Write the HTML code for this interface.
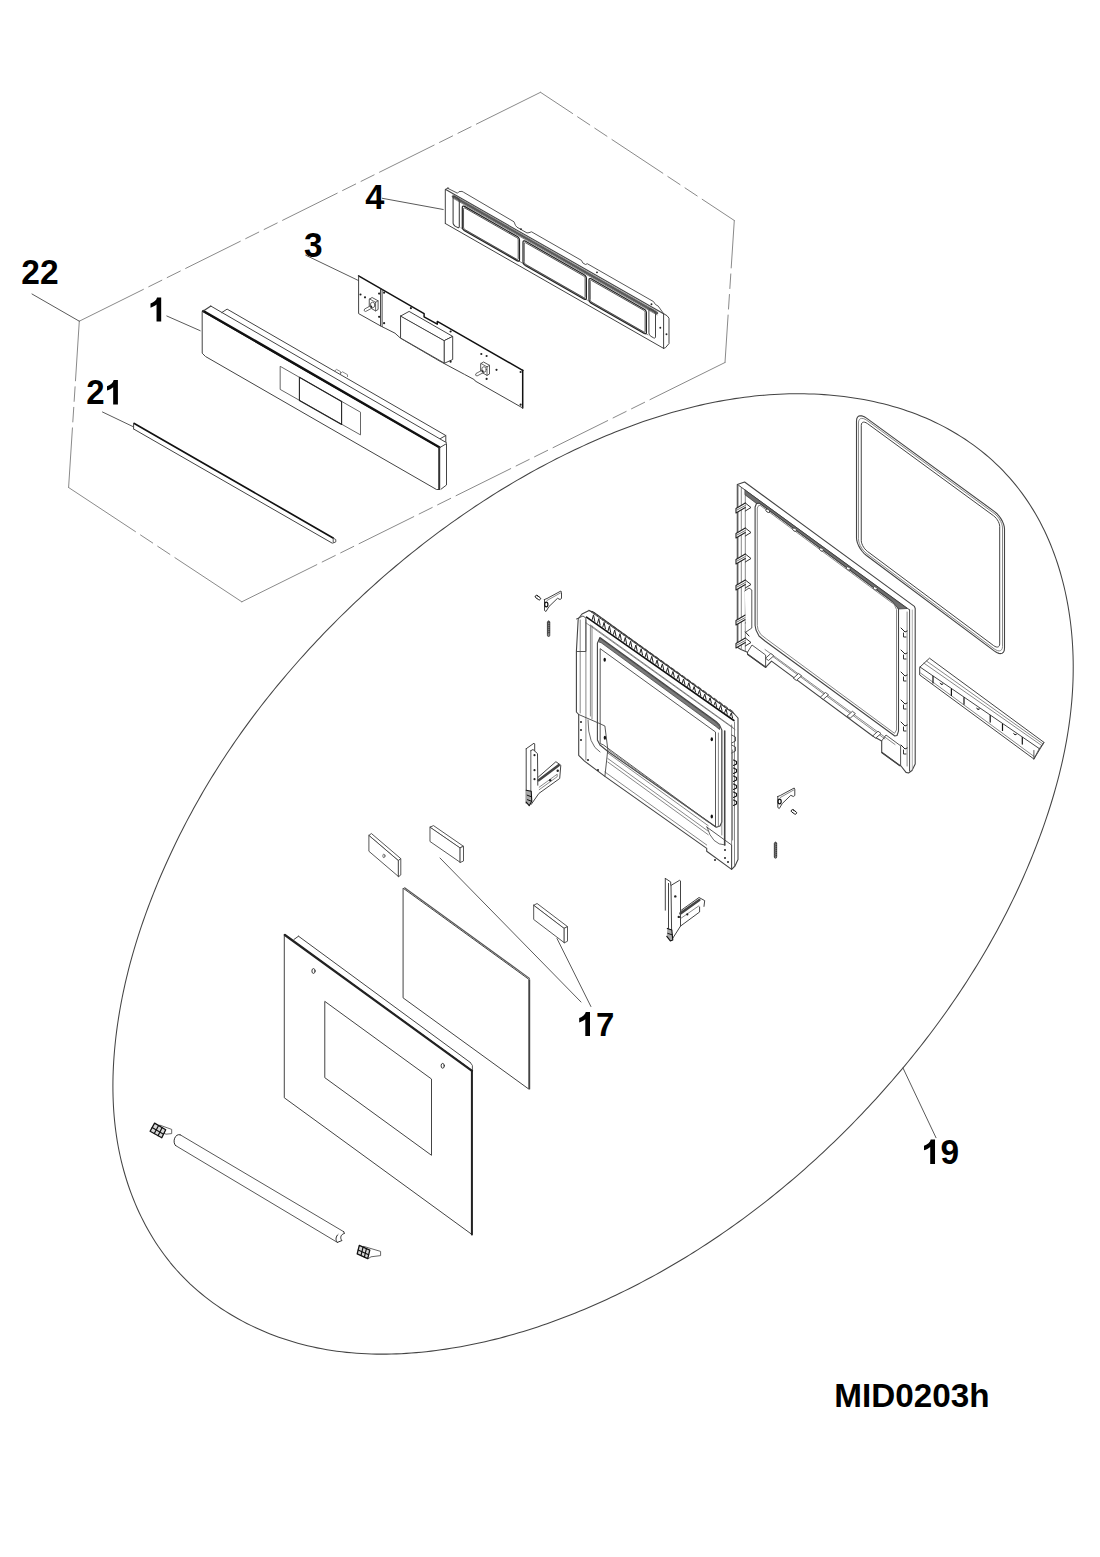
<!DOCTYPE html>
<html><head><meta charset="utf-8"><style>
html,body{margin:0;padding:0;background:#fff;}
body{width:1100px;height:1557px;overflow:hidden;}
svg{display:block;}
text{font-family:"Liberation Sans",sans-serif;font-weight:bold;fill:#000;}
</style></head><body>
<svg width="1100" height="1557" viewBox="0 0 1100 1557" stroke-linecap="round" stroke-linejoin="round">
<rect width="1100" height="1557" fill="#fff"/>
<path d="M79.3,321.2L143.38,289.4M148.76,286.73L161.83,280.24M167.21,277.57L180.29,271.08M185.66,268.41L240.3,241.29M245.68,238.63L258.75,232.13M264.13,229.47L277.21,222.98M282.58,220.31L337.22,193.19M342.59,190.52L355.67,184.03M361.05,181.37L374.12,174.87M379.5,172.21L434.14,145.09M439.51,142.42L452.59,135.93M457.97,133.26L471.04,126.77M476.42,124.1L540.5,92.3" fill="none" stroke="#8a8a8a" stroke-width="1"/>
<path d="M540.5,92.3L572.6,113.53M577.6,116.84L589.78,124.9M594.78,128.21L606.96,136.26M611.96,139.57L662.84,173.23M667.84,176.54L680.02,184.59M685.02,187.9L697.2,195.96M702.2,199.27L734.3,220.5" fill="none" stroke="#8a8a8a" stroke-width="1"/>
<path d="M734.3,220.5L731.19,267.95M730.8,273.94L729.85,288.51M729.45,294.49L728.5,309.06M728.11,315.05L725,362.5" fill="none" stroke="#8a8a8a" stroke-width="1"/>
<path d="M725,362.5L649.99,399.65M644.61,402.31L631.53,408.79M626.15,411.45L613.07,417.93M607.69,420.6L553.03,447.67M547.65,450.33L534.57,456.81M529.19,459.47L516.11,465.95M510.73,468.61L456.07,495.69M450.69,498.35L437.61,504.83M432.23,507.49L419.15,513.97M413.77,516.63L359.11,543.7M353.73,546.37L340.65,552.85M335.27,555.51L322.19,561.99M316.81,564.65L241.8,601.8" fill="none" stroke="#8a8a8a" stroke-width="1"/>
<path d="M241.8,601.8L174.9,557.65M169.89,554.34L157.7,546.3M152.7,543L140.51,534.96M135.5,531.65L68.6,487.5" fill="none" stroke="#8a8a8a" stroke-width="1"/>
<path d="M68.6,487.5L72.43,427.9M72.82,421.91L73.76,407.34M74.14,401.36L75.08,386.79M75.47,380.8L79.3,321.2" fill="none" stroke="#8a8a8a" stroke-width="1"/>
<path d="M163.07,870.47 L165.07,865.93 L167.1,861.41 L169.16,856.91 L171.25,852.41 L173.37,847.94 L175.51,843.47 L177.69,839.03 L179.89,834.59 L182.12,830.17 L184.39,825.77 L186.67,821.38 L188.99,817.01 L191.34,812.65 L193.71,808.31 L196.11,803.98 L198.54,799.67 L201,795.37 L203.49,791.09 L206,786.83 L208.54,782.58 L211.1,778.35 L213.7,774.14 L216.32,769.94 L218.97,765.75 L221.65,761.59 L224.35,757.44 L227.08,753.31 L229.83,749.19 L232.62,745.09 L235.42,741.01 L238.26,736.95 L241.12,732.9 L244.01,728.87 L246.92,724.86 L249.85,720.86 L252.81,716.88 L255.8,712.92 L258.81,708.97 L261.84,705.05 L264.89,701.14 L267.97,697.24 L271.08,693.37 L274.2,689.51 L277.35,685.67 L280.52,681.84 L283.71,678.04 L286.92,674.25 L290.16,670.47 L293.42,666.72 L296.69,662.98 L299.99,659.26 L303.31,655.56 L306.64,651.87 L310,648.2 L313.38,644.55 L316.77,640.92 L320.19,637.31 L323.63,633.71 L327.08,630.13 L330.55,626.57 L334.04,623.03 L337.55,619.5 L341.08,616 L344.63,612.51 L348.2,609.04 L351.78,605.59 L355.39,602.17 L359.01,598.76 L362.64,595.37 L366.3,592 L369.97,588.65 L373.67,585.32 L377.38,582.01 L381.1,578.72 L384.85,575.45 L388.61,572.2 L392.38,568.98 L396.18,565.77 L399.99,562.59 L403.82,559.42 L407.66,556.28 L411.52,553.16 L415.4,550.06 L419.29,546.99 L423.2,543.93 L427.12,540.9 L431.07,537.89 L435.02,534.9 L438.99,531.94 L442.98,529 L446.98,526.08 L451,523.19 L455.03,520.31 L459.08,517.47 L463.14,514.64 L467.22,511.84 L471.31,509.07 L475.42,506.31 L479.54,503.59 L483.68,500.88 L487.84,498.2 L492.01,495.55 L496.19,492.92 L500.39,490.32 L504.61,487.74 L508.84,485.19 L513.09,482.66 L517.35,480.16 L521.63,477.68 L525.93,475.23 L530.24,472.81 L534.57,470.41 L538.91,468.05 L543.27,465.7 L547.65,463.39 L552.04,461.1 L556.45,458.84 L560.88,456.6 L565.32,454.4 L569.78,452.22 L574.26,450.07 L578.76,447.95 L583.27,445.86 L587.79,443.79 L592.34,441.76 L596.9,439.76 L601.47,437.79 L606.06,435.85 L610.67,433.95 L615.29,432.08 L619.92,430.25 L624.57,428.45 L629.23,426.69 L633.91,424.96 L638.6,423.27 L643.3,421.62 L648.02,420.02 L652.75,418.45 L657.49,416.92 L662.24,415.43 L667.01,413.99 L671.78,412.59 L676.57,411.23 L681.37,409.92 L686.17,408.65 L690.99,407.43 L695.82,406.25 L700.66,405.13 L705.51,404.05 L710.37,403.02 L715.23,402.04 L720.11,401.11 L724.99,400.24 L729.88,399.41 L734.78,398.64 L739.69,397.92 L744.6,397.25 L749.53,396.65 L754.45,396.09 L759.39,395.6 L764.33,395.16 L769.28,394.78 L774.23,394.45 L779.19,394.19 L784.15,393.99 L789.12,393.85 L794.09,393.77 L799.07,393.75 L804.05,393.8 L809.03,393.91 L814.02,394.08 L819.01,394.32 L824,394.63 L828.99,395.01 L833.98,395.45 L838.97,395.96 L843.95,396.54 L848.92,397.2 L853.88,397.92 L858.83,398.72 L863.77,399.6 L868.69,400.54 L873.6,401.57 L878.48,402.67 L883.35,403.84 L888.19,405.1 L893.01,406.44 L897.8,407.85 L902.56,409.35 L907.29,410.93 L911.99,412.59 L916.65,414.34 L921.28,416.17 L925.87,418.09 L930.42,420.1 L934.93,422.19 L939.4,424.38 L943.81,426.65 L948.19,429 L952.51,431.45 L956.77,433.98 L960.98,436.59 L965.14,439.29 L969.23,442.08 L973.26,444.94 L977.23,447.89 L981.13,450.92 L984.96,454.02 L988.72,457.21 L992.4,460.48 L996.01,463.82 L999.54,467.24 L1002.99,470.74 L1006.36,474.31 L1009.64,477.94 L1012.85,481.65 L1015.96,485.43 L1019,489.27 L1021.94,493.17 L1024.8,497.13 L1027.56,501.16 L1030.24,505.24 L1032.83,509.38 L1035.33,513.57 L1037.75,517.82 L1040.08,522.12 L1042.33,526.46 L1044.49,530.85 L1046.56,535.29 L1048.56,539.78 L1050.47,544.3 L1052.29,548.87 L1054.04,553.47 L1055.71,558.12 L1057.29,562.79 L1058.8,567.5 L1060.23,572.25 L1061.58,577.02 L1062.85,581.82 L1064.04,586.65 L1065.16,591.5 L1066.2,596.38 L1067.17,601.28 L1068.06,606.19 L1068.88,611.13 L1069.63,616.08 L1070.31,621.05 L1070.91,626.03 L1071.44,631.02 L1071.9,636.02 L1072.29,641.03 L1072.61,646.04 L1072.86,651.06 L1073.05,656.08 L1073.17,661.1 L1073.22,666.12 L1073.2,671.13 L1073.12,676.14 L1072.98,681.15 L1072.77,686.15 L1072.5,691.14 L1072.16,696.12 L1071.77,701.09 L1071.31,706.06 L1070.8,711.02 L1070.23,715.96 L1069.6,720.9 L1068.91,725.83 L1068.17,730.75 L1067.38,735.66 L1066.53,740.56 L1065.63,745.45 L1064.68,750.33 L1063.68,755.2 L1062.63,760.06 L1061.54,764.91 L1060.39,769.74 L1059.2,774.57 L1057.97,779.38 L1056.69,784.18 L1055.37,788.97 L1054,793.75 L1052.59,798.51 L1051.15,803.27 L1049.66,808.01 L1048.14,812.73 L1046.58,817.44 L1044.99,822.14 L1043.35,826.83 L1041.69,831.5 L1039.99,836.16 L1038.26,840.8 L1036.49,845.43 L1034.69,850.05 L1032.86,854.65 L1031,859.24 L1029.11,863.81 L1027.18,868.37 L1025.22,872.91 L1023.23,877.44 L1021.21,881.95 L1019.16,886.46 L1017.07,890.94 L1014.96,895.41 L1012.81,899.87 L1010.64,904.31 L1008.44,908.74 L1006.2,913.15 L1003.94,917.55 L1001.65,921.93 L999.33,926.3 L996.98,930.65 L994.6,934.99 L992.2,939.31 L989.76,943.62 L987.3,947.91 L984.81,952.19 L982.3,956.45 L979.75,960.69 L977.18,964.92 L974.59,969.14 L971.96,973.34 L969.31,977.52 L966.64,981.69 L963.94,985.85 L961.21,989.98 L958.46,994.11 L955.69,998.21 L952.89,1002.3 L950.06,1006.38 L947.21,1010.44 L944.34,1014.48 L941.44,1018.5 L938.52,1022.52 L935.58,1026.51 L932.61,1030.49 L929.62,1034.45 L926.61,1038.4 L923.57,1042.33 L920.52,1046.24 L917.44,1050.14 L914.34,1054.02 L911.22,1057.88 L908.07,1061.73 L904.91,1065.56 L901.72,1069.38 L898.52,1073.18 L895.29,1076.96 L892.05,1080.72 L888.78,1084.47 L885.5,1088.2 L882.19,1091.92 L878.87,1095.61 L875.53,1099.29 L872.17,1102.96 L868.79,1106.6 L865.39,1110.23 L861.97,1113.84 L858.53,1117.43 L855.07,1121 L851.6,1124.56 L848.11,1128.1 L844.59,1131.61 L841.06,1135.11 L837.51,1138.59 L833.95,1142.05 L830.36,1145.49 L826.76,1148.91 L823.14,1152.32 L819.5,1155.7 L815.84,1159.06 L812.16,1162.4 L808.47,1165.72 L804.75,1169.02 L801.02,1172.3 L797.28,1175.55 L793.51,1178.79 L789.73,1182 L785.93,1185.19 L782.11,1188.37 L778.27,1191.51 L774.42,1194.64 L770.55,1197.75 L766.66,1200.83 L762.76,1203.89 L758.84,1206.92 L754.9,1209.93 L750.94,1212.92 L746.97,1215.89 L742.98,1218.83 L738.97,1221.75 L734.95,1224.65 L730.91,1227.52 L726.85,1230.36 L722.78,1233.18 L718.69,1235.98 L714.58,1238.75 L710.46,1241.5 L706.32,1244.22 L702.17,1246.91 L698,1249.59 L693.81,1252.23 L689.61,1254.85 L685.39,1257.44 L681.15,1260.01 L676.9,1262.55 L672.63,1265.06 L668.35,1267.54 L664.05,1270 L659.74,1272.43 L655.41,1274.84 L651.06,1277.21 L646.7,1279.56 L642.32,1281.88 L637.93,1284.18 L633.53,1286.44 L629.1,1288.67 L624.67,1290.88 L620.22,1293.06 L615.75,1295.21 L611.27,1297.33 L606.77,1299.42 L602.26,1301.48 L597.73,1303.51 L593.19,1305.51 L588.63,1307.47 L584.06,1309.41 L579.48,1311.31 L574.88,1313.18 L570.27,1315.02 L565.65,1316.82 L561.01,1318.59 L556.36,1320.32 L551.69,1322.02 L547.01,1323.68 L542.32,1325.3 L537.62,1326.88 L532.9,1328.43 L528.17,1329.94 L523.43,1331.41 L518.68,1332.84 L513.91,1334.23 L509.13,1335.57 L504.34,1336.88 L499.54,1338.14 L494.73,1339.37 L489.91,1340.54 L485.07,1341.68 L480.22,1342.77 L475.37,1343.81 L470.5,1344.81 L465.62,1345.77 L460.73,1346.68 L455.83,1347.54 L450.92,1348.35 L446,1349.11 L441.07,1349.83 L436.13,1350.49 L431.18,1351.11 L426.22,1351.67 L421.26,1352.18 L416.29,1352.63 L411.32,1353.03 L406.34,1353.37 L401.36,1353.65 L396.38,1353.87 L391.39,1354.02 L386.41,1354.12 L381.43,1354.14 L376.45,1354.1 L371.47,1353.99 L366.49,1353.82 L361.53,1353.57 L356.56,1353.25 L351.61,1352.85 L346.66,1352.38 L341.72,1351.83 L336.79,1351.21 L331.87,1350.5 L326.96,1349.71 L322.06,1348.84 L317.18,1347.89 L312.31,1346.85 L307.46,1345.72 L302.63,1344.51 L297.81,1343.22 L293.02,1341.84 L288.26,1340.37 L283.52,1338.82 L278.81,1337.18 L274.13,1335.47 L269.48,1333.66 L264.87,1331.78 L260.3,1329.81 L255.76,1327.76 L251.27,1325.63 L246.82,1323.42 L242.41,1321.12 L238.06,1318.75 L233.75,1316.29 L229.5,1313.75 L225.3,1311.14 L221.15,1308.44 L217.07,1305.67 L213.04,1302.81 L209.08,1299.88 L205.18,1296.87 L201.35,1293.78 L197.59,1290.61 L193.9,1287.37 L190.28,1284.05 L186.74,1280.65 L183.28,1277.18 L179.89,1273.63 L176.59,1270.01 L173.37,1266.31 L170.23,1262.54 L167.18,1258.69 L164.21,1254.78 L161.33,1250.81 L158.52,1246.77 L155.81,1242.67 L153.17,1238.51 L150.62,1234.29 L148.15,1230.02 L145.77,1225.69 L143.47,1221.32 L141.26,1216.89 L139.13,1212.42 L137.08,1207.91 L135.12,1203.36 L133.24,1198.76 L131.45,1194.13 L129.74,1189.46 L128.11,1184.76 L126.57,1180.03 L125.12,1175.27 L123.75,1170.49 L122.46,1165.68 L121.26,1160.85 L120.15,1156 L119.12,1151.13 L118.17,1146.25 L117.31,1141.35 L116.53,1136.44 L115.83,1131.52 L115.21,1126.58 L114.66,1121.64 L114.2,1116.68 L113.8,1111.72 L113.48,1106.75 L113.24,1101.78 L113.06,1096.8 L112.95,1091.82 L112.91,1086.83 L112.93,1081.84 L113.02,1076.85 L113.18,1071.87 L113.39,1066.88 L113.67,1061.89 L114,1056.91 L114.39,1051.94 L114.84,1046.97 L115.34,1042 L115.9,1037.05 L116.5,1032.1 L117.16,1027.16 L117.87,1022.23 L118.62,1017.31 L119.43,1012.41 L120.28,1007.51 L121.18,1002.62 L122.13,997.74 L123.12,992.88 L124.16,988.02 L125.24,983.18 L126.37,978.34 L127.54,973.52 L128.75,968.71 L130.01,963.91 L131.31,959.12 L132.65,954.34 L134.03,949.57 L135.44,944.82 L136.9,940.08 L138.4,935.35 L139.94,930.63 L141.51,925.92 L143.12,921.23 L144.76,916.55 L146.44,911.88 L148.16,907.23 L149.91,902.59 L151.69,897.96 L153.51,893.34 L155.36,888.74 L157.24,884.15 L159.15,879.57 L161.09,875.01Z" fill="none" stroke="#444" stroke-width="1.05"/>
<text transform="matrix(1.0147,0,0,1.0391,21.29,283.9)" font-size="33">22</text>
<text transform="matrix(1.0,0,0,1.0609,86.2,404.4)" font-size="33">2</text>
<text transform="matrix(1.0125,0,0,1.0522,304.09,257.1)" font-size="33">3</text>
<text transform="matrix(1.0412,0,0,1.0435,365.26,208.9)" font-size="33">4</text>
<text transform="matrix(1.0,0,0,1.0261,596.0,1036.0)" font-size="33">7</text>
<text transform="matrix(1.0125,0,0,1.0609,940.39,1164.0)" font-size="33">9</text>
<text transform="matrix(1.008,0,0,1.0333,834.28,1407.3)" font-size="33">MID0203h</text>
<path transform="matrix(0.99,0,0,1,150.5,297.4)" d="M6.6,0 L10.8,0 L10.8,24 L6.1,24 L6.1,7.2 C4.4,8.6 2.4,9.7 0,10.4 L0,6.1 C1.4,5.6 3,4.7 4.4,3.6 C5.6,2.5 6.3,1.3 6.6,0 Z" fill="#000"/>
<path transform="matrix(1.01,0,0,1.02,107,380)" d="M6.6,0 L10.8,0 L10.8,24 L6.1,24 L6.1,7.2 C4.4,8.6 2.4,9.7 0,10.4 L0,6.1 C1.4,5.6 3,4.7 4.4,3.6 C5.6,2.5 6.3,1.3 6.6,0 Z" fill="#000"/>
<path transform="matrix(1,0,0,1,579.2,1012)" d="M6.6,0 L10.8,0 L10.8,24 L6.1,24 L6.1,7.2 C4.4,8.6 2.4,9.7 0,10.4 L0,6.1 C1.4,5.6 3,4.7 4.4,3.6 C5.6,2.5 6.3,1.3 6.6,0 Z" fill="#000"/>
<path transform="matrix(1.02,0,0,1.02,924,1139.6)" d="M6.6,0 L10.8,0 L10.8,24 L6.1,24 L6.1,7.2 C4.4,8.6 2.4,9.7 0,10.4 L0,6.1 C1.4,5.6 3,4.7 4.4,3.6 C5.6,2.5 6.3,1.3 6.6,0 Z" fill="#000"/>
<line x1="32" y1="294" x2="79.3" y2="321.2" stroke="#5a5a5a" stroke-width="1"/>
<line x1="166.8" y1="316" x2="200.2" y2="330.7" stroke="#5a5a5a" stroke-width="1"/>
<line x1="102.5" y1="412" x2="133" y2="426.6" stroke="#5a5a5a" stroke-width="1"/>
<line x1="305.7" y1="255.2" x2="358.6" y2="280.6" stroke="#5a5a5a" stroke-width="1"/>
<line x1="382.3" y1="198.3" x2="443.2" y2="209.5" stroke="#5a5a5a" stroke-width="1"/>
<line x1="440" y1="858" x2="581" y2="1002" stroke="#5a5a5a" stroke-width="1"/>
<line x1="557" y1="938.5" x2="590.9" y2="1006.5" stroke="#5a5a5a" stroke-width="1"/>
<line x1="903" y1="1068" x2="936" y2="1137.7" stroke="#5a5a5a" stroke-width="1"/>
<polygon points="202.5,311.5 439.5,447.8 439.5,489.5 436.5,489.5 205.5,356.5 202.5,353.5" fill="#fff" stroke="#444" stroke-width="1"/>
<line x1="203.3" y1="311" x2="439.3" y2="447.2" stroke="#111" stroke-width="2.4"/>
<line x1="203.3" y1="311" x2="210.9" y2="306.1" stroke="#444" stroke-width="1.2"/>
<line x1="210.9" y1="306.1" x2="446.5" y2="442.7" stroke="#444" stroke-width="1"/>
<polyline points="439.5,447.8 446.5,443.6 446.5,485 441,489.2" fill="none" stroke="#444" stroke-width="1"/>
<line x1="439.2" y1="448" x2="439.2" y2="489" stroke="#333" stroke-width="2"/>
<polyline points="221.7,312.6 227.1,309.1 445.8,435.5 445.8,441.6" fill="none" stroke="#444" stroke-width="1"/>
<line x1="440.4" y1="438.6" x2="445.8" y2="435.5" stroke="#444" stroke-width="1"/>
<polygon points="280.5,366.5 360.5,412.2 360.5,434.9 280.5,389.6" fill="none" stroke="#555" stroke-width="0.9"/>
<polygon points="299.4,377.3 341.6,401.4 341.6,424.4 299.4,400.5" fill="none" stroke="#222" stroke-width="1.1"/>
<polyline points="334.5,371.2 336.5,369.4 340.5,371.6 340.5,373.4" fill="none" stroke="#6a6a6a" stroke-width="0.8"/>
<polyline points="340.5,373.4 342.5,371.8 347.5,374.7 347.5,376.6" fill="none" stroke="#6a6a6a" stroke-width="0.8"/>
<line x1="134.3" y1="423.5" x2="333.1" y2="537.9" stroke="#111" stroke-width="1.7"/>
<line x1="134" y1="429.2" x2="332.3" y2="543.2" stroke="#444" stroke-width="1"/>
<line x1="133.6" y1="423.2" x2="133.6" y2="429" stroke="#444" stroke-width="1"/>
<polyline points="333.2,538 333.2,543 335.8,541.9 335.8,539.6 333.2,538" fill="none" stroke="#444" stroke-width="0.9"/>
<polyline points="358.6,275.9 424.1,313.6 424.1,316.8 437.3,324.1 437.3,321.4 522.7,370.3" fill="none" stroke="#111" stroke-width="1.5"/>
<line x1="522.7" y1="370.3" x2="522.7" y2="408" stroke="#111" stroke-width="1.5"/>
<polyline points="522.7,408 475.2,381 474.4,379.7 464.5,374.4 440,361.3 400.5,338.2 395,333.2 385.9,328.6 381.4,326.4 358.6,313.6 358.6,275.9" fill="none" stroke="#444" stroke-width="1"/>
<line x1="380.5" y1="288.9" x2="380.5" y2="325.8" stroke="#333" stroke-width="0.9"/>
<line x1="382.1" y1="289.7" x2="382.1" y2="326.6" stroke="#333" stroke-width="0.9"/>
<polygon points="400.9,315.9 444.5,340.5 444.5,363.2 400.9,338.2" fill="#fff" stroke="#444" stroke-width="1"/>
<polygon points="400.9,315.9 409.1,311.4 452.7,336.4 444.5,340.5" fill="#fff" stroke="#444" stroke-width="1"/>
<polygon points="444.5,340.5 452.7,336.4 452.7,359.5 444.5,363.2" fill="#fff" stroke="#444" stroke-width="1"/>
<polygon points="369.6,299 372.1,297.5 378.1,300.8 378.1,309.5 375.6,310.9 369.6,307.5" fill="#fff" stroke="#444" stroke-width="0.9"/>
<line x1="369.6" y1="299" x2="375.6" y2="302.3" stroke="#444" stroke-width="0.8"/>
<line x1="375.6" y1="302.3" x2="378.1" y2="300.8" stroke="#444" stroke-width="0.8"/>
<line x1="375.6" y1="302.3" x2="375.6" y2="310.9" stroke="#444" stroke-width="0.8"/>
<ellipse cx="372.6" cy="305" rx="2.3" ry="2.8" fill="#fff" stroke="#444" stroke-width="0.8"/>
<polyline points="371.1,305.5 364.6,309 364.1,310.7 365.6,311.5 372.4,307.9" fill="#fff" stroke="#444" stroke-width="0.8"/>
<circle cx="371.2" cy="306.9" r="1.08" fill="#222"/>
<polygon points="481,363.5 483.5,362 489.5,365.3 489.5,374 487,375.4 481,372" fill="#fff" stroke="#444" stroke-width="0.9"/>
<line x1="481" y1="363.5" x2="487" y2="366.8" stroke="#444" stroke-width="0.8"/>
<line x1="487" y1="366.8" x2="489.5" y2="365.3" stroke="#444" stroke-width="0.8"/>
<line x1="487" y1="366.8" x2="487" y2="375.4" stroke="#444" stroke-width="0.8"/>
<ellipse cx="484" cy="369.5" rx="2.3" ry="2.8" fill="#fff" stroke="#444" stroke-width="0.8"/>
<polyline points="482.5,370 476,373.5 475.5,375.2 477,376 483.8,372.4" fill="#fff" stroke="#444" stroke-width="0.8"/>
<circle cx="482.6" cy="371.4" r="1.08" fill="#222"/>
<circle cx="360.5" cy="294.5" r="1.08" fill="#222"/>
<circle cx="365" cy="297.3" r="1.08" fill="#222"/>
<circle cx="379.1" cy="293.6" r="1.08" fill="#222"/>
<circle cx="379.1" cy="316.8" r="1.08" fill="#222"/>
<circle cx="384.1" cy="292.7" r="1.08" fill="#222"/>
<circle cx="384.1" cy="323.2" r="1.08" fill="#222"/>
<circle cx="410.9" cy="308.2" r="1.08" fill="#222"/>
<circle cx="450.6" cy="331.5" r="1.08" fill="#222"/>
<circle cx="450.6" cy="361.7" r="1.08" fill="#222"/>
<circle cx="481.3" cy="354" r="1.08" fill="#222"/>
<circle cx="486.6" cy="356" r="1.08" fill="#222"/>
<circle cx="496.5" cy="369.8" r="1.08" fill="#222"/>
<circle cx="486.6" cy="378.9" r="1.08" fill="#222"/>
<circle cx="520.6" cy="372" r="1.08" fill="#222"/>
<circle cx="520.6" cy="404.7" r="1.08" fill="#222"/>
<polyline points="445.3,223.5 445.3,190 447,188.2 448.7,188.1" fill="none" stroke="#444" stroke-width="1"/>
<line x1="445.3" y1="189.3" x2="663.6" y2="313.67" stroke="#444" stroke-width="1.1"/>
<line x1="445.3" y1="223.5" x2="663.6" y2="348.37" stroke="#444" stroke-width="1"/>
<line x1="461" y1="227.88" x2="648" y2="334.84" stroke="#6a6a6a" stroke-width="0.8"/>
<polyline points="663.6,313.67 667,315.67 669,318.17 669,343.57 665.5,347.67 663.6,348.37" fill="none" stroke="#444" stroke-width="1"/>
<line x1="663.6" y1="313.67" x2="663.6" y2="348.37" stroke="#444" stroke-width="1"/>
<line x1="453" y1="196.4" x2="657" y2="313.09" stroke="#5a5a5a" stroke-width="2.4"/>
<line x1="453" y1="194.8" x2="657" y2="311.49" stroke="#6a6a6a" stroke-width="0.7"/>
<line x1="453" y1="198.2" x2="657" y2="314.89" stroke="#6a6a6a" stroke-width="0.8"/>
<polyline points="447.5,188.2 457.5,193.2 459,191.6 462,191.4 463.5,192.2 514,221.8 515.5,225.45 517,227.21 527,232.93 529,232.68 531.5,231.81 581.5,260.41 582.8,262.95 585.5,264.49 587.3,263.72 653.5,301.59 655.5,304.53 658.2,306.08 663.6,313.67" fill="none" stroke="#444" stroke-width="0.9"/>
<circle cx="521" cy="229.1" r="0.96" fill="#222"/>
<circle cx="597" cy="272.37" r="0.96" fill="#222"/>
<circle cx="651.5" cy="304.25" r="0.96" fill="#222"/>
<polygon points="453.1,197.46 453.25,196.78 453.69,196.38 454.33,196.32 455.1,196.61 457.3,197.86 458.07,198.45 458.71,199.26 459.15,200.16 459.3,201.01 459.3,226.51 459.15,227.19 458.71,227.59 458.07,227.65 457.3,227.36 455.1,226.11 454.33,225.52 453.69,224.71 453.25,223.81 453.1,222.96" fill="none" stroke="#444" stroke-width="1.1"/>
<polygon points="649,309.82 649.15,309.14 649.59,308.74 650.23,308.67 651,308.96 653.5,310.39 654.27,310.98 654.91,311.79 655.35,312.68 655.5,313.53 655.5,336.93 655.35,337.61 654.91,338.01 654.27,338.08 653.5,337.79 651,336.36 650.23,335.77 649.59,334.97 649.15,334.07 649,333.22" fill="none" stroke="#444" stroke-width="1"/>
<polygon points="462.3,207.32 462.47,206.58 462.94,206.14 463.66,206.07 464.5,206.38 517.3,236.58 518.14,237.23 518.86,238.12 519.33,239.1 519.5,240.04 519.5,259.94 519.33,260.69 518.86,261.13 518.14,261.2 517.3,260.88 464.5,230.68 463.66,230.03 462.94,229.15 462.47,228.16 462.3,227.22" fill="none" stroke="#222" stroke-width="1.2"/>
<polygon points="463.6,208.77 463.71,208.26 464.04,207.96 464.53,207.91 465.1,208.13 516.7,237.64 517.27,238.08 517.76,238.69 518.09,239.36 518.2,240 518.2,258.6 518.09,259.11 517.76,259.41 517.27,259.45 516.7,259.24 465.1,229.73 464.53,229.28 464.04,228.68 463.71,228.01 463.6,227.37" fill="none" stroke="#444" stroke-width="0.9"/>
<polygon points="523,242.04 523.17,241.3 523.64,240.86 524.36,240.79 525.2,241.1 584.2,274.85 585.04,275.5 585.76,276.38 586.23,277.37 586.4,278.31 586.4,298.21 586.23,298.96 585.76,299.4 585.04,299.46 584.2,299.15 525.2,265.4 524.36,264.75 523.64,263.87 523.17,262.88 523,261.94" fill="none" stroke="#222" stroke-width="1.2"/>
<polygon points="524.3,243.49 524.41,242.98 524.74,242.68 525.23,242.63 525.8,242.85 583.6,275.91 584.17,276.35 584.66,276.95 584.99,277.63 585.1,278.27 585.1,296.87 584.99,297.37 584.66,297.67 584.17,297.72 583.6,297.51 525.8,264.45 525.23,264 524.74,263.4 524.41,262.73 524.3,262.09" fill="none" stroke="#444" stroke-width="0.9"/>
<polygon points="589,279.8 589.17,279.05 589.64,278.61 590.36,278.54 591.2,278.85 644.2,309.17 645.04,309.82 645.76,310.7 646.23,311.69 646.4,312.63 646.4,332.53 646.23,333.28 645.76,333.72 645.04,333.78 644.2,333.47 591.2,303.15 590.36,302.51 589.64,301.62 589.17,300.63 589,299.7" fill="none" stroke="#222" stroke-width="1.2"/>
<polygon points="590.3,281.24 590.41,280.73 590.74,280.43 591.23,280.38 591.8,280.6 643.6,310.23 644.17,310.67 644.66,311.27 644.99,311.95 645.1,312.59 645.1,331.19 644.99,331.69 644.66,331.99 644.17,332.04 643.6,331.83 591.8,302.2 591.23,301.76 590.74,301.15 590.41,300.48 590.3,299.84" fill="none" stroke="#444" stroke-width="0.9"/>
<circle cx="666.5" cy="334.33" r="0.96" fill="#222"/>
<circle cx="660.3" cy="327.78" r="0.96" fill="#222"/>
<polygon points="856.5,420.74 856.75,418.71 857.49,417.15 858.68,416.14 860.27,415.72 862.16,415.92 864.27,416.73 866.5,418.1 994.5,511.6 996.73,513.47 998.84,515.77 1000.73,518.36 1002.32,521.12 1003.51,523.91 1004.25,526.59 1004.5,529.02 1004.5,648.48 1004.25,650.54 1003.51,652.13 1002.32,653.16 1000.73,653.58 998.84,653.37 996.73,652.54 994.5,651.13 866.5,555.47 864.27,553.56 862.16,551.25 860.27,548.64 858.68,545.89 857.49,543.11 856.75,540.46 856.5,538.06" fill="none" stroke="#444" stroke-width="1.1"/>
<polygon points="858.5,422.6 858.71,420.9 859.33,419.59 860.33,418.73 861.66,418.38 863.26,418.55 865.03,419.23 866.9,420.39 994.1,513.33 995.97,514.9 997.74,516.83 999.34,519.01 1000.67,521.32 1001.67,523.67 1002.29,525.92 1002.5,527.96 1002.5,646.58 1002.29,648.31 1001.67,649.65 1000.67,650.51 999.34,650.86 997.74,650.69 995.97,649.99 994.1,648.81 866.9,553.78 865.03,552.17 863.26,550.23 861.66,548.05 860.33,545.73 859.33,543.4 858.71,541.17 858.5,539.15" fill="none" stroke="#6a6a6a" stroke-width="0.8"/>
<polygon points="861.3,425.21 861.45,423.96 861.91,423 862.64,422.37 863.62,422.11 864.79,422.24 866.09,422.74 867.46,423.58 993.54,515.75 994.91,516.91 996.21,518.32 997.38,519.91 998.36,521.61 999.09,523.33 999.55,524.98 999.7,526.48 999.7,643.92 999.55,645.2 999.09,646.17 998.36,646.81 997.38,647.07 996.21,646.94 994.91,646.42 993.54,645.56 867.46,551.41 866.09,550.23 864.79,548.81 863.62,547.21 862.64,545.51 861.91,543.8 861.45,542.16 861.3,540.68" fill="none" stroke="#444" stroke-width="1"/>
<polygon points="737.3,484.5 744.6,482 914.4,606.4 915.2,608.5 915.2,764 912,770.5 908.5,773 906,772.4 901,766 899.7,765.5 881.7,752.4 881.7,740.9 872.7,736 771.5,661.1 765.6,667.3 747.5,654.2 747.5,652.2 741,649.5 737.3,647.3" fill="#fff" stroke="#444" stroke-width="1.1"/>
<line x1="737.5" y1="484.5" x2="909.6" y2="609.9" stroke="#444" stroke-width="1"/>
<line x1="909.6" y1="609.9" x2="909.6" y2="771" stroke="#444" stroke-width="1"/>
<line x1="907.1" y1="612" x2="907.1" y2="766" stroke="#6a6a6a" stroke-width="0.8"/>
<line x1="912.3" y1="610" x2="912.3" y2="770" stroke="#8a8a8a" stroke-width="0.7"/>
<line x1="741.3" y1="488" x2="741.3" y2="649" stroke="#6a6a6a" stroke-width="0.8"/>
<line x1="745.3" y1="490" x2="745.3" y2="651" stroke="#6a6a6a" stroke-width="0.8"/>
<line x1="738.5" y1="486" x2="738.5" y2="647" stroke="#8a8a8a" stroke-width="0.6"/>
<polygon points="759.3,503 891.8,601 895.5,603.5 898.5,609 898.5,731.1 897,735.5 894.8,736 765,641 759,636 756,630 755.1,625.5 755.1,507 756.5,503.5" fill="none" stroke="#444" stroke-width="1.1"/>
<polygon points="760.5,505.6 890.5,601.8 894.2,604.2 896.5,609.5 896.5,730 894.5,733.3 766.5,639 760.8,634.5 758,629.5 757.3,625.5 757.3,508 758.5,505.8" fill="none" stroke="#6a6a6a" stroke-width="0.8"/>
<polygon points="745.3,490.3 907.1,608.5 898.5,609 891.8,601 759.3,503 756.5,503.5 745.3,495" fill="#6e6e6e" stroke="#333" stroke-width="0.7"/>
<ellipse cx="767.8" cy="510.8" rx="2.2" ry="1.4" transform="rotate(36 767.8 510.8)" fill="#fff" stroke="#444" stroke-width="0.9"/>
<ellipse cx="794.6" cy="529.7" rx="2.2" ry="1.4" transform="rotate(36 794.6 529.7)" fill="#fff" stroke="#444" stroke-width="0.9"/>
<ellipse cx="821.5" cy="549.6" rx="2.2" ry="1.4" transform="rotate(36 821.5 549.6)" fill="#fff" stroke="#444" stroke-width="0.9"/>
<ellipse cx="848.4" cy="568.5" rx="2.2" ry="1.4" transform="rotate(36 848.4 568.5)" fill="#fff" stroke="#444" stroke-width="0.9"/>
<ellipse cx="875.3" cy="588.4" rx="2.2" ry="1.4" transform="rotate(36 875.3 588.4)" fill="#fff" stroke="#444" stroke-width="0.9"/>
<polyline points="745.3,503 736,508.5 736,513 745.3,507.5" fill="#fff" stroke="#222" stroke-width="1.1"/>
<polyline points="745.3,503 751,507.5 745.3,511" fill="none" stroke="#333" stroke-width="1"/>
<line x1="737" y1="510" x2="745.3" y2="505.5" stroke="#555" stroke-width="0.8"/>
<polyline points="745.3,528 736,533.5 736,538 745.3,532.5" fill="#fff" stroke="#222" stroke-width="1.1"/>
<polyline points="745.3,528 751,532.5 745.3,536" fill="none" stroke="#333" stroke-width="1"/>
<line x1="737" y1="535" x2="745.3" y2="530.5" stroke="#555" stroke-width="0.8"/>
<polyline points="745.3,554 736,559.5 736,564 745.3,558.5" fill="#fff" stroke="#222" stroke-width="1.1"/>
<polyline points="745.3,554 751,558.5 745.3,562" fill="none" stroke="#333" stroke-width="1"/>
<line x1="737" y1="561" x2="745.3" y2="556.5" stroke="#555" stroke-width="0.8"/>
<polyline points="745.3,580 736,585.5 736,590 745.3,584.5" fill="#fff" stroke="#222" stroke-width="1.1"/>
<polyline points="745.3,580 751,584.5 745.3,588" fill="none" stroke="#333" stroke-width="1"/>
<line x1="737" y1="587" x2="745.3" y2="582.5" stroke="#555" stroke-width="0.8"/>
<polyline points="745.3,615 736,620.5 736,625 745.3,619.5" fill="#fff" stroke="#222" stroke-width="1.1"/>
<polyline points="745.3,615 751,619.5 745.3,623" fill="none" stroke="#333" stroke-width="1"/>
<line x1="737" y1="622" x2="745.3" y2="617.5" stroke="#555" stroke-width="0.8"/>
<polyline points="745.3,638 736,643.5 736,648 745.3,642.5" fill="#fff" stroke="#222" stroke-width="1.1"/>
<polyline points="745.3,638 751,642.5 745.3,646" fill="none" stroke="#333" stroke-width="1"/>
<line x1="737" y1="645" x2="745.3" y2="640.5" stroke="#555" stroke-width="0.8"/>
<polyline points="744.8,591 749,588 751.8,590 751.8,628 746,632" fill="#fff" stroke="#444" stroke-width="0.9"/>
<line x1="745.3" y1="632" x2="749" y2="636" stroke="#222" stroke-width="1"/>
<line x1="765" y1="649.5" x2="895" y2="744.5" stroke="#6a6a6a" stroke-width="0.8"/>
<line x1="771.5" y1="655.5" x2="885" y2="739" stroke="#6a6a6a" stroke-width="0.8"/>
<polygon points="765.8,658 770.8,653.5 773.8,655.8 768.8,660.2" fill="#fff" stroke="#444" stroke-width="0.9"/>
<polygon points="793.6,678 798.6,673.5 801.6,675.8 796.6,680.2" fill="#fff" stroke="#444" stroke-width="0.9"/>
<polygon points="820.5,697 825.5,692.5 828.5,694.8 823.5,699.2" fill="#fff" stroke="#444" stroke-width="0.9"/>
<polygon points="847.4,715.8 852.4,711.3 855.4,713.6 850.4,718" fill="#fff" stroke="#444" stroke-width="0.9"/>
<polygon points="873,735.7 878,731.2 881,733.5 876,737.9" fill="#fff" stroke="#444" stroke-width="0.9"/>
<polyline points="747.5,652.2 752,645 765.6,655 765.6,667.3" fill="none" stroke="#444" stroke-width="0.9"/>
<polyline points="881.7,740.9 886,735 900.6,745.8 900.6,765.5" fill="none" stroke="#444" stroke-width="0.9"/>
<line x1="748" y1="654.5" x2="765.6" y2="667.3" stroke="#444" stroke-width="1.4"/>
<line x1="882" y1="752.6" x2="899.7" y2="765.5" stroke="#444" stroke-width="1.4"/>
<polyline points="901,628 905,632 907.1,631" fill="none" stroke="#222" stroke-width="1"/>
<polyline points="903.5,633 903.5,637 906,637" fill="none" stroke="#333" stroke-width="1"/>
<polyline points="901,650 905,654 907.1,653" fill="none" stroke="#222" stroke-width="1"/>
<polyline points="903.5,655 903.5,659 906,659" fill="none" stroke="#333" stroke-width="1"/>
<polyline points="901,672 905,676 907.1,675" fill="none" stroke="#222" stroke-width="1"/>
<polyline points="903.5,677 903.5,681 906,681" fill="none" stroke="#333" stroke-width="1"/>
<polyline points="901,700 905,704 907.1,703" fill="none" stroke="#222" stroke-width="1"/>
<polyline points="903.5,705 903.5,709 906,709" fill="none" stroke="#333" stroke-width="1"/>
<polyline points="901,722 905,726 907.1,725" fill="none" stroke="#222" stroke-width="1"/>
<polyline points="903.5,727 903.5,731 906,731" fill="none" stroke="#333" stroke-width="1"/>
<polyline points="901,745 905,749 907.1,748" fill="none" stroke="#222" stroke-width="1"/>
<polyline points="903.5,750 903.5,754 906,754" fill="none" stroke="#333" stroke-width="1"/>
<polygon points="920,667 929.5,658.2 1044,742.4 1033.9,759 920,675.2" fill="#fff" stroke="#444" stroke-width="1"/>
<line x1="920" y1="667" x2="1039.3" y2="748.6" stroke="#444" stroke-width="1"/>
<line x1="924" y1="663.2" x2="1041.8" y2="745.6" stroke="#6a6a6a" stroke-width="0.8"/>
<line x1="926.5" y1="661" x2="1043" y2="744" stroke="#6a6a6a" stroke-width="0.8"/>
<line x1="920.5" y1="673" x2="1034.5" y2="756.8" stroke="#6a6a6a" stroke-width="0.8"/>
<line x1="1039.3" y1="748.6" x2="1044" y2="742.4" stroke="#444" stroke-width="0.9"/>
<line x1="1039.3" y1="748.6" x2="1033.9" y2="759" stroke="#444" stroke-width="0.9"/>
<line x1="1033.9" y1="750.5" x2="1033.9" y2="759" stroke="#444" stroke-width="0.9"/>
<line x1="933" y1="676.4" x2="933" y2="682.9" stroke="#111" stroke-width="1.2"/>
<line x1="951.4" y1="689.01" x2="951.4" y2="695.51" stroke="#111" stroke-width="1.2"/>
<line x1="964" y1="697.64" x2="964" y2="704.14" stroke="#111" stroke-width="1.2"/>
<line x1="990.2" y1="715.59" x2="990.2" y2="722.09" stroke="#111" stroke-width="1.2"/>
<line x1="1002.5" y1="724.01" x2="1002.5" y2="730.51" stroke="#111" stroke-width="1.2"/>
<line x1="1022.3" y1="737.58" x2="1022.3" y2="744.08" stroke="#111" stroke-width="1.2"/>
<path d="M940,683.23 q1.5,2.5 3,0.8" fill="#333" stroke="#111" stroke-width="0.8"/>
<path d="M976.5,708.23 q1.5,2.5 3,0.8" fill="#333" stroke="#111" stroke-width="0.8"/>
<path d="M1013.5,733.58 q1.5,2.5 3,0.8" fill="#333" stroke="#111" stroke-width="0.8"/>
<polygon points="589.1,610.4 594,612.5 733.9,713.5 738,718 738,859.5 735,866 731.6,869.4 706.7,851.3 706.7,848.4 604.9,776.4 584.5,761.1 578.7,755.3 578.7,714.5 576.4,712 576.4,651.5 578.2,619 582,614" fill="#fff" stroke="#444" stroke-width="1.1"/>
<line x1="586.5" y1="617.1" x2="733.9" y2="720.5" stroke="#111" stroke-width="1.6"/>
<line x1="589.1" y1="610.4" x2="733.9" y2="713.5" stroke="#444" stroke-width="0.9"/>
<polyline points="592,612.46 592,611.16 595,613.3 595,614.6" fill="none" stroke="#333" stroke-width="0.8"/>
<polyline points="592.2,619.5 593.5,614.83 594.8,621.32" fill="none" stroke="#222" stroke-width="1"/>
<polyline points="597.3,616.24 597.3,614.94 600.3,617.07 600.3,618.37" fill="none" stroke="#333" stroke-width="0.8"/>
<polyline points="597.5,623.21 598.8,618.61 600.1,625.03" fill="none" stroke="#222" stroke-width="1"/>
<polyline points="602.6,620.01 602.6,618.71 605.6,620.85 605.6,622.15" fill="none" stroke="#333" stroke-width="0.8"/>
<polyline points="602.8,626.93 604.1,622.38 605.4,628.75" fill="none" stroke="#222" stroke-width="1"/>
<polyline points="607.9,623.79 607.9,622.49 610.9,624.62 610.9,625.92" fill="none" stroke="#333" stroke-width="0.8"/>
<polyline points="608.1,630.64 609.4,626.15 610.7,632.46" fill="none" stroke="#222" stroke-width="1"/>
<polyline points="613.2,627.56 613.2,626.26 616.2,628.4 616.2,629.7" fill="none" stroke="#333" stroke-width="0.8"/>
<polyline points="613.4,634.36 614.7,629.93 616,636.18" fill="none" stroke="#222" stroke-width="1"/>
<polyline points="618.5,631.33 618.5,630.03 621.5,632.17 621.5,633.47" fill="none" stroke="#333" stroke-width="0.8"/>
<polyline points="618.7,638.07 620,633.7 621.3,639.89" fill="none" stroke="#222" stroke-width="1"/>
<polyline points="623.8,635.11 623.8,633.81 626.8,635.94 626.8,637.24" fill="none" stroke="#333" stroke-width="0.8"/>
<polyline points="624,641.79 625.3,637.47 626.6,643.61" fill="none" stroke="#222" stroke-width="1"/>
<polyline points="629.1,638.88 629.1,637.58 632.1,639.72 632.1,641.02" fill="none" stroke="#333" stroke-width="0.8"/>
<polyline points="629.3,645.5 630.6,641.25 631.9,647.33" fill="none" stroke="#222" stroke-width="1"/>
<polyline points="634.4,642.65 634.4,641.35 637.4,643.49 637.4,644.79" fill="none" stroke="#333" stroke-width="0.8"/>
<polyline points="634.6,649.22 635.9,645.02 637.2,651.04" fill="none" stroke="#222" stroke-width="1"/>
<polyline points="639.7,646.43 639.7,645.13 642.7,647.26 642.7,648.56" fill="none" stroke="#333" stroke-width="0.8"/>
<polyline points="639.9,652.93 641.2,648.8 642.5,654.76" fill="none" stroke="#222" stroke-width="1"/>
<polyline points="645,650.2 645,648.9 648,651.04 648,652.34" fill="none" stroke="#333" stroke-width="0.8"/>
<polyline points="645.2,656.65 646.5,652.57 647.8,658.47" fill="none" stroke="#222" stroke-width="1"/>
<polyline points="650.3,653.97 650.3,652.67 653.3,654.81 653.3,656.11" fill="none" stroke="#333" stroke-width="0.8"/>
<polyline points="650.5,660.36 651.8,656.34 653.1,662.19" fill="none" stroke="#222" stroke-width="1"/>
<polyline points="655.6,657.75 655.6,656.45 658.6,658.58 658.6,659.88" fill="none" stroke="#333" stroke-width="0.8"/>
<polyline points="655.8,664.08 657.1,660.12 658.4,665.9" fill="none" stroke="#222" stroke-width="1"/>
<polyline points="660.9,661.52 660.9,660.22 663.9,662.36 663.9,663.66" fill="none" stroke="#333" stroke-width="0.8"/>
<polyline points="661.1,667.79 662.4,663.89 663.7,669.62" fill="none" stroke="#222" stroke-width="1"/>
<polyline points="666.2,665.3 666.2,664 669.2,666.13 669.2,667.43" fill="none" stroke="#333" stroke-width="0.8"/>
<polyline points="666.4,671.51 667.7,667.66 669,673.33" fill="none" stroke="#222" stroke-width="1"/>
<polyline points="671.5,669.07 671.5,667.77 674.5,669.9 674.5,671.2" fill="none" stroke="#333" stroke-width="0.8"/>
<polyline points="671.7,675.23 673,671.44 674.3,677.05" fill="none" stroke="#222" stroke-width="1"/>
<polyline points="676.8,672.84 676.8,671.54 679.8,673.68 679.8,674.98" fill="none" stroke="#333" stroke-width="0.8"/>
<polyline points="677,678.94 678.3,675.21 679.6,680.76" fill="none" stroke="#222" stroke-width="1"/>
<polyline points="682.1,676.62 682.1,675.32 685.1,677.45 685.1,678.75" fill="none" stroke="#333" stroke-width="0.8"/>
<polyline points="682.3,682.66 683.6,678.98 684.9,684.48" fill="none" stroke="#222" stroke-width="1"/>
<polyline points="687.4,680.39 687.4,679.09 690.4,681.23 690.4,682.53" fill="none" stroke="#333" stroke-width="0.8"/>
<polyline points="687.6,686.37 688.9,682.76 690.2,688.19" fill="none" stroke="#222" stroke-width="1"/>
<polyline points="692.7,684.16 692.7,682.86 695.7,685 695.7,686.3" fill="none" stroke="#333" stroke-width="0.8"/>
<polyline points="692.9,690.09 694.2,686.53 695.5,691.91" fill="none" stroke="#222" stroke-width="1"/>
<polyline points="698,687.94 698,686.64 701,688.77 701,690.07" fill="none" stroke="#333" stroke-width="0.8"/>
<polyline points="698.2,693.8 699.5,690.3 700.8,695.62" fill="none" stroke="#222" stroke-width="1"/>
<polyline points="703.3,691.71 703.3,690.41 706.3,692.55 706.3,693.85" fill="none" stroke="#333" stroke-width="0.8"/>
<polyline points="703.5,697.52 704.8,694.08 706.1,699.34" fill="none" stroke="#222" stroke-width="1"/>
<polyline points="708.6,695.48 708.6,694.18 711.6,696.32 711.6,697.62" fill="none" stroke="#333" stroke-width="0.8"/>
<polyline points="708.8,701.23 710.1,697.85 711.4,703.05" fill="none" stroke="#222" stroke-width="1"/>
<polyline points="713.9,699.26 713.9,697.96 716.9,700.09 716.9,701.39" fill="none" stroke="#333" stroke-width="0.8"/>
<polyline points="714.1,704.95 715.4,701.63 716.7,706.77" fill="none" stroke="#222" stroke-width="1"/>
<polyline points="719.2,703.03 719.2,701.73 722.2,703.87 722.2,705.17" fill="none" stroke="#333" stroke-width="0.8"/>
<polyline points="719.4,708.66 720.7,705.4 722,710.49" fill="none" stroke="#222" stroke-width="1"/>
<polyline points="724.5,706.8 724.5,705.5 727.5,707.64 727.5,708.94" fill="none" stroke="#333" stroke-width="0.8"/>
<polyline points="724.7,712.38 726,709.17 727.3,714.2" fill="none" stroke="#222" stroke-width="1"/>
<polyline points="729.8,710.58 729.8,709.28 732.8,711.41 732.8,712.71" fill="none" stroke="#333" stroke-width="0.8"/>
<polyline points="730,716.09 731.3,712.95 732.6,717.92" fill="none" stroke="#222" stroke-width="1"/>
<line x1="585.9" y1="622.8" x2="735" y2="729.5" stroke="#6a6a6a" stroke-width="0.8"/>
<line x1="591" y1="625.5" x2="733" y2="727.5" stroke="#6a6a6a" stroke-width="0.8"/>
<line x1="580.2" y1="620" x2="580.2" y2="713" stroke="#6a6a6a" stroke-width="0.8"/>
<line x1="585.9" y1="620" x2="585.9" y2="760" stroke="#6a6a6a" stroke-width="0.8"/>
<line x1="590.4" y1="625" x2="590.4" y2="716" stroke="#6a6a6a" stroke-width="0.8"/>
<line x1="592" y1="626" x2="592" y2="719" stroke="#6a6a6a" stroke-width="0.8"/>
<polyline points="576.4,619 583,616 585.9,618 585.9,651.5 576.4,651.5" fill="none" stroke="#444" stroke-width="0.9"/>
<polygon points="599.9,637.5 716,721.5 719.5,725 721.8,730 721.8,822 720,826 716.4,827.3 607.3,751 600,745 597.4,740 597.4,643.2" fill="none" stroke="#444" stroke-width="1.1"/>
<polygon points="599.9,638.3 716,722.3 719.5,726.5 719.5,729.5 716,726.6 601,642.6 599.5,642.2" fill="#7a7a7a" stroke="#333" stroke-width="0.7"/>
<polygon points="600.5,648.9 715.5,732 715.5,827 603.5,745 600.5,743.6" fill="none" stroke="#444" stroke-width="0.9"/>
<line x1="718.4" y1="733" x2="718.4" y2="826.5" stroke="#6a6a6a" stroke-width="0.8"/>
<line x1="724.7" y1="731" x2="724.7" y2="845" stroke="#444" stroke-width="1.6"/>
<line x1="721.8" y1="730" x2="721.8" y2="835" stroke="#6a6a6a" stroke-width="0.8"/>
<line x1="731.6" y1="725" x2="731.6" y2="869" stroke="#6a6a6a" stroke-width="0.8"/>
<line x1="734.5" y1="722" x2="734.5" y2="866" stroke="#6a6a6a" stroke-width="0.8"/>
<line x1="607.8" y1="749.5" x2="708.2" y2="822.2" stroke="#6a6a6a" stroke-width="0.8"/>
<line x1="607.8" y1="753" x2="708.2" y2="825.7" stroke="#6a6a6a" stroke-width="0.8"/>
<line x1="607.8" y1="758.5" x2="708.2" y2="831.2" stroke="#6a6a6a" stroke-width="0.8"/>
<line x1="607.8" y1="762" x2="708.2" y2="834.7" stroke="#6a6a6a" stroke-width="0.8"/>
<line x1="604.9" y1="772" x2="706.7" y2="845" stroke="#6a6a6a" stroke-width="0.8"/>
<polyline points="578.7,714.5 599.1,723.3 604.9,726 607.8,749.5 604.9,776.4" fill="none" stroke="#444" stroke-width="0.9"/>
<polyline points="706.7,827 724.7,840 731.6,845 731.6,869.4" fill="none" stroke="#444" stroke-width="0.9"/>
<path d="M588,720 Q588,745 600,752" fill="none" stroke="#444" stroke-width="0.8"/>
<path d="M707,827 Q712,845 725,845" fill="none" stroke="#444" stroke-width="0.8"/>
<ellipse cx="604.9" cy="737.8" rx="1.2" ry="2" fill="#111"/>
<ellipse cx="711.8" cy="739.3" rx="1.2" ry="2" fill="#111"/>
<ellipse cx="711.8" cy="816.4" rx="1.2" ry="2" fill="#111"/>
<ellipse cx="604.7" cy="659.7" rx="1.2" ry="2" fill="#111"/>
<circle cx="581" cy="722" r="1.02" fill="#222"/>
<circle cx="581" cy="730" r="1.02" fill="#222"/>
<circle cx="581" cy="740" r="1.02" fill="#222"/>
<circle cx="588" cy="760" r="1.02" fill="#222"/>
<circle cx="598" cy="770" r="1.02" fill="#222"/>
<circle cx="725" cy="850" r="1.02" fill="#222"/>
<circle cx="725" cy="858" r="1.02" fill="#222"/>
<circle cx="728" cy="862" r="1.02" fill="#222"/>
<circle cx="715" cy="860" r="1.02" fill="#222"/>
<polyline points="733.5,760 736.5,761.5 736.5,764 733.5,765.5" fill="none" stroke="#111" stroke-width="1.1"/>
<polyline points="733.5,768 736.5,769.5 736.5,772 733.5,773.5" fill="none" stroke="#111" stroke-width="1.1"/>
<polyline points="733.5,776 736.5,777.5 736.5,780 733.5,781.5" fill="none" stroke="#111" stroke-width="1.1"/>
<polyline points="733.5,784 736.5,785.5 736.5,788 733.5,789.5" fill="none" stroke="#111" stroke-width="1.1"/>
<polyline points="733.5,792 736.5,793.5 736.5,796 733.5,797.5" fill="none" stroke="#111" stroke-width="1.1"/>
<polyline points="733.5,800 736.5,801.5 736.5,804 733.5,805.5" fill="none" stroke="#111" stroke-width="1.1"/>
<polyline points="731.6,735 735.5,737 735.5,741 731.6,743" fill="none" stroke="#444" stroke-width="0.9"/>
<polyline points="731.6,745 735.5,747 735.5,751 731.6,753" fill="none" stroke="#444" stroke-width="0.9"/>
<line x1="732.6" y1="750" x2="732.6" y2="840" stroke="#6a6a6a" stroke-width="0.8"/>
<polygon points="544.5,599.5 547,598.5 560.9,591 561.5,592.5 561.5,598.5 560,599.5 557.5,598.3 549,606.5 546,611.5 544.5,610.5 544.5,599.5" fill="#fff" stroke="#444" stroke-width="1"/>
<line x1="547" y1="600.5" x2="560.9" y2="592.7" stroke="#6a6a6a" stroke-width="0.8"/>
<ellipse cx="546.3" cy="604.5" rx="1.6" ry="2.4" fill="none" stroke="#111" stroke-width="1.2"/>
<rect x="534.9" y="596.3" width="6" height="2.6" rx="1.3" transform="rotate(35 537.9 597.6)" fill="#fff" stroke="#111" stroke-width="0.9"/>
<rect x="547.4" y="621" width="2.4" height="15.5" rx="1.2" fill="#888" stroke="#222" stroke-width="0.7"/>
<line x1="547.5" y1="623" x2="549.7" y2="622.3" stroke="#222" stroke-width="0.6"/>
<line x1="547.5" y1="625" x2="549.7" y2="624.3" stroke="#222" stroke-width="0.6"/>
<line x1="547.5" y1="627" x2="549.7" y2="626.3" stroke="#222" stroke-width="0.6"/>
<line x1="547.5" y1="629" x2="549.7" y2="628.3" stroke="#222" stroke-width="0.6"/>
<line x1="547.5" y1="631" x2="549.7" y2="630.3" stroke="#222" stroke-width="0.6"/>
<line x1="547.5" y1="633" x2="549.7" y2="632.3" stroke="#222" stroke-width="0.6"/>
<polygon points="777.8,796.5 780.3,795.5 794.2,788 794.8,789.5 794.8,795.5 793.3,796.5 790.8,795.3 782.3,803.5 779.3,808.5 777.8,807.5 777.8,796.5" fill="#fff" stroke="#444" stroke-width="1"/>
<line x1="780.3" y1="797.5" x2="794.2" y2="789.7" stroke="#6a6a6a" stroke-width="0.8"/>
<ellipse cx="779.6" cy="801.5" rx="1.6" ry="2.4" fill="none" stroke="#111" stroke-width="1.2"/>
<rect x="790.9" y="810.6" width="6" height="2.6" rx="1.3" transform="rotate(35 793.9 811.9)" fill="#fff" stroke="#111" stroke-width="0.9"/>
<rect x="774.3" y="842.2" width="2.4" height="16" rx="1.2" fill="#888" stroke="#222" stroke-width="0.7"/>
<line x1="774.4" y1="844.2" x2="776.6" y2="843.5" stroke="#222" stroke-width="0.6"/>
<line x1="774.4" y1="846.2" x2="776.6" y2="845.5" stroke="#222" stroke-width="0.6"/>
<line x1="774.4" y1="848.2" x2="776.6" y2="847.5" stroke="#222" stroke-width="0.6"/>
<line x1="774.4" y1="850.2" x2="776.6" y2="849.5" stroke="#222" stroke-width="0.6"/>
<line x1="774.4" y1="852.2" x2="776.6" y2="851.5" stroke="#222" stroke-width="0.6"/>
<line x1="774.4" y1="854.2" x2="776.6" y2="853.5" stroke="#222" stroke-width="0.6"/>
<line x1="774.4" y1="856.2" x2="776.6" y2="855.5" stroke="#222" stroke-width="0.6"/>
<polyline points="526.2,748.7 534,743.2 534.7,743.8 534.7,750.7" fill="none" stroke="#444" stroke-width="1"/>
<line x1="526.2" y1="748.7" x2="526.2" y2="803.2" stroke="#444" stroke-width="1"/>
<line x1="530.8" y1="750.7" x2="530.8" y2="799.2" stroke="#777" stroke-width="1.2"/>
<polyline points="530.8,750.7 533,749.5 537.5,753.6 537.8,785.2" fill="none" stroke="#444" stroke-width="1"/>
<polyline points="538.2,777.2 555.9,761.7 560.8,765.2 559.7,778.5 538.9,793.4 531.2,804.4" fill="none" stroke="#444" stroke-width="1"/>
<line x1="538.7" y1="780.2" x2="558.7" y2="765.2" stroke="#444" stroke-width="2.6"/>
<polyline points="539.2,787.2 557.2,774.2 557.2,776.7 539.2,789.7" fill="none" stroke="#6a6a6a" stroke-width="0.8"/>
<polyline points="526.2,790.2 531.2,791.2 531.8,801.2 529.2,805.7 526.2,802.2" fill="#aaa" stroke="#111" stroke-width="1.1"/>
<line x1="527.2" y1="795.2" x2="531.2" y2="796.7" stroke="#111" stroke-width="1"/>
<line x1="527.4" y1="799.7" x2="531.4" y2="801.2" stroke="#111" stroke-width="1"/>
<circle cx="534.5" cy="755.2" r="1.08" fill="#222"/>
<circle cx="534.5" cy="770.2" r="1.08" fill="#222"/>
<circle cx="534.5" cy="779.2" r="1.08" fill="#222"/>
<circle cx="550.2" cy="780.2" r="1.2" fill="#222"/>
<circle cx="557.7" cy="770.7" r="1.2" fill="#222"/>
<polyline points="665.3,878.4 670.7,881.9 670.7,884.7" fill="none" stroke="#444" stroke-width="1"/>
<line x1="665.3" y1="878.4" x2="665.3" y2="910.2" stroke="#444" stroke-width="1"/>
<line x1="668.5" y1="883.4" x2="668.5" y2="928.4" stroke="#444" stroke-width="1"/>
<polyline points="671,885.4 679.6,880.3 680.5,880.9 680.5,926.1" fill="none" stroke="#444" stroke-width="1"/>
<line x1="671" y1="885.4" x2="671.6" y2="930.4" stroke="#444" stroke-width="1"/>
<polyline points="680.5,910.8 699,897.5 704.7,900.6 704,906.4" fill="none" stroke="#444" stroke-width="1"/>
<line x1="680.5" y1="913.4" x2="699.3" y2="900" stroke="#444" stroke-width="2.6"/>
<polyline points="699.6,907 699.6,912 680.5,926.1 671.6,940.1" fill="none" stroke="#444" stroke-width="1"/>
<polyline points="680.8,918.4 698.8,905.9" fill="none" stroke="#6a6a6a" stroke-width="0.8"/>
<polyline points="667.3,928.4 671.8,929.9 672.8,940.1 670.3,940.9 666.8,936.4" fill="#aaa" stroke="#111" stroke-width="1.1"/>
<line x1="667.8" y1="933.4" x2="672.3" y2="934.9" stroke="#111" stroke-width="1"/>
<circle cx="675.3" cy="896.4" r="1.2" fill="#222"/>
<circle cx="678.8" cy="916.9" r="1.2" fill="#222"/>
<circle cx="687.3" cy="914.4" r="1.08" fill="#222"/>
<polygon points="369.2,835.2 398.6,860.34 398.6,876.64 369.2,851.5" fill="#fff" stroke="#444" stroke-width="0.9"/>
<polygon points="369.2,835.2 371.4,833.5 400.8,858.64 398.6,860.34" fill="#fff" stroke="#444" stroke-width="0.9"/>
<polygon points="398.6,860.34 400.8,858.64 400.8,874.94 398.6,876.64" fill="#fff" stroke="#444" stroke-width="0.9"/>
<ellipse cx="383.9" cy="855.92" rx="1.1" ry="1.8" fill="none" stroke="#444" stroke-width="0.7"/>
<polygon points="430.3,827 460.3,847.7 460.3,862.4 430.3,841.7" fill="#fff" stroke="#444" stroke-width="0.9"/>
<polygon points="430.3,827 433.5,825.6 463.5,846.3 460.3,847.7" fill="#fff" stroke="#444" stroke-width="0.9"/>
<polygon points="460.3,847.7 463.5,846.3 463.5,861 460.3,862.4" fill="#fff" stroke="#444" stroke-width="0.9"/>
<polygon points="534,905.1 564.4,928.2 564.4,942.8 534,919.7" fill="#fff" stroke="#444" stroke-width="0.9"/>
<polygon points="534,905.1 537.1,903.5 567.5,926.6 564.4,928.2" fill="#fff" stroke="#444" stroke-width="0.9"/>
<polygon points="564.4,928.2 567.5,926.6 567.5,941.2 564.4,942.8" fill="#fff" stroke="#444" stroke-width="0.9"/>
<polygon points="403.4,888.4 528.8,979.3 528.8,1089.1 403.4,998.1" fill="none" stroke="#444" stroke-width="1"/>
<line x1="404.6" y1="887.8" x2="529.5" y2="978.4" stroke="#555" stroke-width="1.1"/>
<line x1="529.6" y1="979.8" x2="529.6" y2="1089" stroke="#444" stroke-width="1.2"/>
<line x1="293.9" y1="939.5" x2="298.5" y2="936.2" stroke="#444" stroke-width="1"/>
<line x1="298.5" y1="936.2" x2="470.3" y2="1062.5" stroke="#444" stroke-width="1"/>
<polyline points="470.3,1062.5 472.4,1065.5 472.4,1070.5" fill="none" stroke="#444" stroke-width="0.9"/>
<polygon points="284.6,934.6 472.4,1070.7 472.4,1234.8 284.6,1098" fill="none" stroke="#444" stroke-width="1"/>
<line x1="284.9" y1="935" x2="472" y2="1070.9" stroke="#222" stroke-width="2.2"/>
<line x1="471.8" y1="1071" x2="471.8" y2="1234.5" stroke="#222" stroke-width="1.8"/>
<polygon points="325.1,1001.6 431.5,1079 431.5,1155.3 325.1,1077.9" fill="none" stroke="#444" stroke-width="1"/>
<ellipse cx="313.5" cy="971" rx="1.6" ry="2.4" fill="none" stroke="#222" stroke-width="0.9"/>
<ellipse cx="442.7" cy="1065.8" rx="1.6" ry="2.4" fill="none" stroke="#222" stroke-width="0.9"/>
<line x1="180.2" y1="1134.8" x2="343.7" y2="1231.7" stroke="#444" stroke-width="0.9"/>
<line x1="175.5" y1="1145.5" x2="337.4" y2="1242.4" stroke="#444" stroke-width="0.9"/>
<path d="M180.2,1134.8 C175,1133 172,1142 175.5,1145.5" fill="none" stroke="#1a1a1a" stroke-width="0.9"/>
<path d="M343.7,1231.7 L344.5,1233.5 C341,1234 339.5,1238 342,1240.5 L337.4,1242.4 C335,1240 336,1236 338,1234.5" fill="none" stroke="#1a1a1a" stroke-width="0.9"/>
<polygon points="160,1125.2 171.7,1129.4 171.7,1133.6 166,1134.2 163.5,1133" fill="#fff" stroke="#555" stroke-width="0.9"/>
<polygon points="154.6,1123.1 165.7,1129.7 161.8,1137.8 150.1,1131.2" fill="#d8d8d8" stroke="#111" stroke-width="1.3"/>
<line x1="158.6" y1="1125.48" x2="154.31" y2="1133.58" stroke="#111" stroke-width="1.2"/>
<line x1="162.15" y1="1127.59" x2="158.06" y2="1135.69" stroke="#111" stroke-width="1.2"/>
<line x1="152.12" y1="1127.56" x2="163.56" y2="1134.15" stroke="#111" stroke-width="1.1"/>
<polygon points="364,1246.5 380.6,1251.4 380.6,1255.6 371,1256.8 368.5,1258.5" fill="#fff" stroke="#555" stroke-width="0.9"/>
<polygon points="359.3,1245.4 369.8,1250.2 367.7,1258.6 357.2,1253.8" fill="#d8d8d8" stroke="#111" stroke-width="1.3"/>
<line x1="363.08" y1="1247.13" x2="360.98" y2="1255.53" stroke="#111" stroke-width="1.2"/>
<line x1="366.44" y1="1248.66" x2="364.34" y2="1257.06" stroke="#111" stroke-width="1.2"/>
<line x1="358.14" y1="1250.02" x2="368.64" y2="1254.82" stroke="#111" stroke-width="1.1"/>
</svg></body></html>
